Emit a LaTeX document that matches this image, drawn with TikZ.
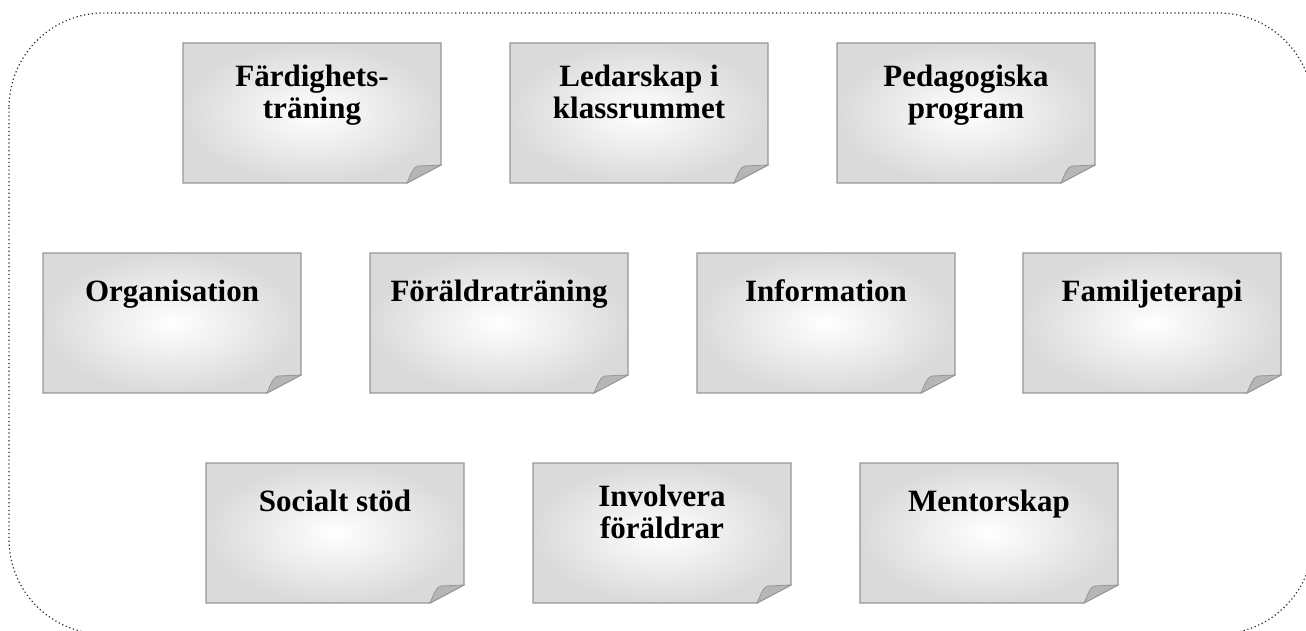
\documentclass[tikz,border=0pt]{standalone}
\usepackage{fontspec}
\setmainfont{Liberation Serif}
\definecolor{cardedge}{RGB}{150,150,150}
\definecolor{cardfold}{RGB}{182,182,182}
\definecolor{cardgray}{RGB}{218,218,218}
\definecolor{frameline}{RGB}{40,40,40}
\tikzset{
  cardbody/.style={draw=cardedge, line width=0.9pt, shading=radial, inner color=white, outer color=cardgray},
  cardcurl/.style={draw=cardedge, fill=cardfold, line width=0.6pt},
  cardtitle/.style={anchor=north, inner sep=0pt, align=center, font=\fontsize{23.25}{24}\selectfont\bfseries,
    execute at begin node={\vphantom{Ä}}},
}

\begin{document}
\begin{tikzpicture}[x=0.75pt, y=-0.75pt]
    \useasboundingbox (0,0) rectangle (1306,631);
    % Dotted frame round all cards
    \draw[frameline, dotted, line width=0.9pt, rounded corners=71pt] (9,13) rectangle (1313,634);
    % Cards with a curled corner
    \foreach \name/\x/\y/\txt in {fard/183/43/{Färdighets-\\träning}, ledar/510/43/{Ledarskap i\\klassrummet}, pedag/837/43/{Pedagogiska\\program},
        organ/43/253/Organisation, foralder/370/253/Föräldraträning, info/697/253/Information, famil/1023/253/Familjeterapi,
        social/206/463/Socialt stöd, involv/533/463/{Involvera\\föräldrar}, mentor/860/463/Mentorskap} {
        \shadedraw[cardbody] (\x,\y) -- ++(258,0) -- ++(0,122) -- ++(-34,18) -- ++(-224,0) -- cycle;
        \filldraw[cardcurl] (\x+224,\y+140) .. controls (\x+228,\y+131) and (\x+230,\y+124) .. (\x+235,\y+123) -- (\x+258,\y+122) -- cycle;
        \node[cardtitle] (\name) at (\x+129,\y+22) {\txt};
    }
\end{tikzpicture}
\end{document}
